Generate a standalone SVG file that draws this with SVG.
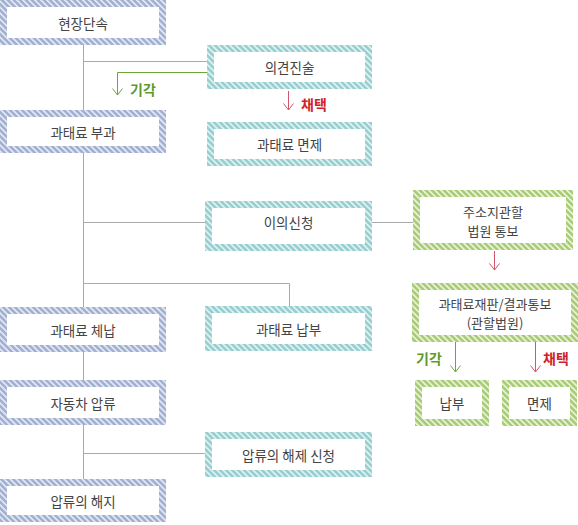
<svg xmlns="http://www.w3.org/2000/svg" width="578" height="525" viewBox="0 0 578 525">
<defs>
<pattern id="hb" width="4.24" height="4.24" patternUnits="userSpaceOnUse" patternTransform="rotate(-45)"><rect width="4.24" height="4.24" fill="#e6ebf5"/><rect width="2.6" height="4.24" fill="#a2b1d3"/></pattern>
<pattern id="ht" width="4.24" height="4.24" patternUnits="userSpaceOnUse" patternTransform="rotate(-45)"><rect width="4.24" height="4.24" fill="#e2f3f3"/><rect width="2.6" height="4.24" fill="#96cfd1"/></pattern>
<pattern id="hg" width="4.24" height="4.24" patternUnits="userSpaceOnUse" patternTransform="rotate(-45)"><rect width="4.24" height="4.24" fill="#eaf4dc"/><rect width="2.6" height="4.24" fill="#a8cc74"/></pattern>
<marker id="ag" viewBox="0 0 8 12" refX="7.5" refY="6" markerWidth="8" markerHeight="12" markerUnits="userSpaceOnUse" orient="auto"><path d="M1,1 L7.5,6 L1,11" fill="none" stroke="#6fa63a" stroke-width="1"/></marker>
<marker id="ar" viewBox="0 0 8 12" refX="7.5" refY="6" markerWidth="8" markerHeight="12" markerUnits="userSpaceOnUse" orient="auto"><path d="M1,1 L7.5,6 L1,11" fill="none" stroke="#d0566a" stroke-width="1"/></marker>
</defs>
<style>
.in{fill:#ffffff}
.t{font-family:"Noto Sans CJK KR","Noto Sans",sans-serif;font-size:13.5px;fill:#444;text-anchor:middle;dominant-baseline:central}
.t2{font-size:13px}
.c{fill:none;stroke:#aaaaaa;stroke-width:1}
.g{fill:none;stroke:#6fa63a;stroke-width:1}
.r{fill:none;stroke:#d0566a;stroke-width:1}
.lg{font-family:"Noto Sans CJK KR","Noto Sans",sans-serif;font-size:14px;fill:#5e9a2c;font-weight:bold;dominant-baseline:central}
.lr{font-family:"Noto Sans CJK KR","Noto Sans",sans-serif;font-size:14px;fill:#d0202a;font-weight:bold;dominant-baseline:central}
</style>
<g id="connectors">
<path class="c" d="M83.5,45 V110"/>
<path class="c" d="M83.5,61.5 H207"/>
<path class="c" d="M83.5,153 V307"/>
<path class="c" d="M83.5,222.5 H205"/>
<path class="c" d="M83.5,283.5 H289.5 V306"/>
<path class="c" d="M372,222.5 H413"/>
<path class="c" d="M83.5,352 V380"/>
<path class="c" d="M83.5,425 V479"/>
<path class="c" d="M83.5,453.5 H205"/>
<path class="g" d="M207,72.5 H117.5 V95" marker-end="url(#ag)"/>
<path class="r" d="M288.5,91 V110" marker-end="url(#ar)"/>
<path class="r" d="M494.5,251 V270" marker-end="url(#ar)"/>
<path class="g" d="M455.5,342 V372" marker-end="url(#ag)"/>
<path class="r" d="M535.5,342 V372" marker-end="url(#ar)"/>
<text class="lg" x="130" y="89">기각</text>
<text class="lr" x="301" y="104">채택</text>
<text class="lg" x="416" y="358">기각</text>
<text class="lr" x="543" y="358">채택</text>
</g>
<g id="n1"><rect x="0" y="0" width="166" height="45" fill="url(#hb)"/><rect class="in" x="7" y="7" width="152" height="31"/><text class="t" x="83" y="22.5">현장단속</text></g>
<g id="n2"><rect x="207" y="45" width="165" height="44" fill="url(#ht)"/><rect class="in" x="214" y="52" width="151" height="30"/><text class="t" x="289.5" y="67">의견진술</text></g>
<g id="n3"><rect x="0" y="110" width="166" height="43" fill="url(#hb)"/><rect class="in" x="7" y="117" width="152" height="29"/><text class="t" x="83" y="131.5">과태료 부과</text></g>
<g id="n4"><rect x="207" y="122" width="165" height="44" fill="url(#ht)"/><rect class="in" x="214" y="129" width="151" height="30"/><text class="t" x="289.5" y="144">과태료 면제</text></g>
<g id="n5"><rect x="205" y="201" width="167" height="50" fill="url(#ht)"/><rect class="in" x="212" y="208" width="153" height="36"/><text class="t" x="288.5" y="222">이의신청</text></g>
<g id="n6"><rect x="413" y="190" width="160" height="60" fill="url(#hg)"/><rect class="in" x="420" y="197" width="146" height="46"/><text class="t t2" x="493" y="211">주소지관할</text><text class="t t2" x="493" y="230">법원 통보</text></g>
<g id="n7"><rect x="412" y="283" width="166" height="59" fill="url(#hg)"/><rect class="in" x="419" y="290" width="152" height="45"/><text class="t t2" x="495" y="303">과태료재판/결과통보</text><text class="t t2" x="495" y="322">(관할법원)</text></g>
<g id="n8"><rect x="0" y="307" width="166" height="45" fill="url(#hb)"/><rect class="in" x="7" y="314" width="152" height="31"/><text class="t" x="83" y="329.5">과태료 체납</text></g>
<g id="n9"><rect x="205" y="306" width="167" height="45" fill="url(#ht)"/><rect class="in" x="212" y="313" width="153" height="31"/><text class="t" x="288.5" y="328.5">과태료 납부</text></g>
<g id="n10"><rect x="415" y="380" width="74" height="46" fill="url(#hg)"/><rect class="in" x="422" y="387" width="60" height="32"/><text class="t" x="452" y="403">납부</text></g>
<g id="n11"><rect x="502" y="380" width="75" height="46" fill="url(#hg)"/><rect class="in" x="509" y="387" width="61" height="32"/><text class="t" x="539.5" y="403">면제</text></g>
<g id="n12"><rect x="0" y="380" width="166" height="45" fill="url(#hb)"/><rect class="in" x="7" y="387" width="152" height="31"/><text class="t" x="83" y="402.5">자동차 압류</text></g>
<g id="n13"><rect x="205" y="432" width="167" height="45" fill="url(#ht)"/><rect class="in" x="212" y="439" width="153" height="31"/><text class="t" x="288.5" y="454.5">압류의 해제 신청</text></g>
<g id="n14"><rect x="0" y="479" width="166" height="43" fill="url(#hb)"/><rect class="in" x="7" y="486" width="152" height="29"/><text class="t" x="83" y="500.5">압류의 해지</text></g>
</svg>
